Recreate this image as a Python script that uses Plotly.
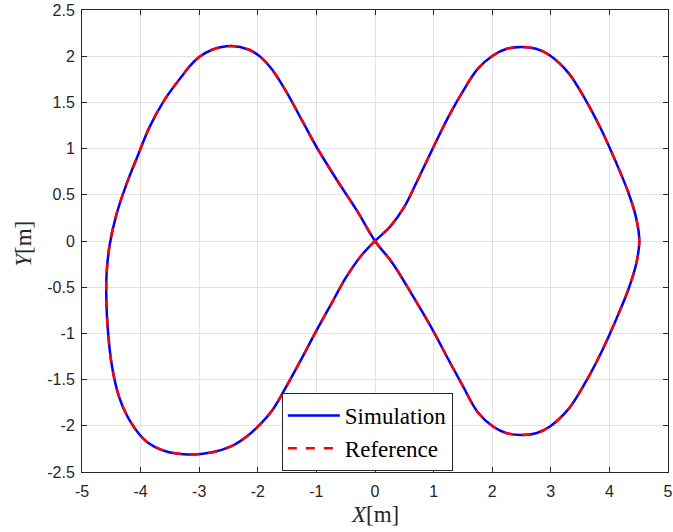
import plotly.graph_objects as go

# Reference trajectory (figure-eight path), metres.
# Order: origin -> right lobe (clockwise) -> origin -> left lobe (counter-clockwise) -> origin
ref_x = [0.0, 0.25, 0.5, 0.72, 1.0, 1.25, 1.5, 1.75, 2.02, 2.25, 2.5, 2.75, 2.98, 3.3, 3.6, 3.85, 4.1, 4.32, 4.46, 4.51,
         4.46, 4.32, 4.1, 3.85, 3.6, 3.3, 2.98, 2.75, 2.5, 2.25, 2.02, 1.75, 1.5, 1.25, 1.0, 0.65, 0.3, 0.0,
         -0.3, -0.65, -1.0, -1.25, -1.5, -1.75, -1.95, -2.15, -2.45, -2.78, -3.0, -3.15, -3.3, -3.6, -3.85, -4.05,
         -4.25, -4.42, -4.53, -4.58, -4.585, -4.56, -4.49, -4.36, -4.15, -3.9, -3.6, -3.2, -2.8,
         -2.45, -2.2, -2.0, -1.75, -1.5, -1.25, -1.0, -0.72, -0.5, -0.25, 0.0]
ref_y = [0.0, 0.15, 0.37, 0.65, 1.02, 1.34, 1.62, 1.86, 2.01, 2.08, 2.10, 2.08, 2.01, 1.82, 1.52, 1.22, 0.87, 0.53, 0.24, 0.0,
         -0.24, -0.53, -0.87, -1.22, -1.52, -1.82, -2.01, -2.08, -2.10, -2.08, -2.01, -1.85, -1.57, -1.28, -0.98, -0.60, -0.24, 0.0,
         0.32, 0.66, 1.02, 1.31, 1.60, 1.85, 1.99, 2.07, 2.11, 2.07, 1.99, 1.90, 1.78, 1.52, 1.23, 0.92,
         0.60, 0.27, -0.05, -0.35, -0.62, -0.95, -1.35, -1.70, -1.98, -2.17, -2.27, -2.31, -2.29,
         -2.22, -2.12, -2.01, -1.83, -1.56, -1.27, -0.97, -0.65, -0.40, -0.17, 0.0]

# Simulated trajectory tracks the reference closely
sim_x = list(ref_x)
sim_y = list(ref_y)

x_ticks = [-5, -4, -3, -2, -1, 0, 1, 2, 3, 4, 5]
y_ticks = [-2.5, -2, -1.5, -1, -0.5, 0, 0.5, 1, 1.5, 2, 2.5]

SERIF = "Liberation Serif, Times New Roman, serif"
SANS = "Liberation Sans, Arial, sans-serif"
INK = "#262626"

fig = go.Figure()
fig.add_trace(go.Scatter(
    x=sim_x, y=sim_y, mode="lines", name="Simulation",
    line=dict(color="#0000ff", width=2.5, shape="spline", smoothing=1.0),
))
fig.add_trace(go.Scatter(
    x=ref_x, y=ref_y, mode="lines", name="Reference",
    line=dict(color="#ff0000", width=2.5, dash="dash", shape="spline", smoothing=1.0),
))

axis_common = dict(
    showgrid=True, gridcolor="#e3e3e3", gridwidth=1,
    zeroline=False, automargin=False,
    showline=True, linecolor=INK, linewidth=1, mirror="ticks",
    ticks="inside", ticklen=5, tickcolor=INK,
    tickfont=dict(family=SANS, size=16, color=INK),
)

fig.update_layout(
    width=673, height=532,
    margin=dict(l=82, r=5, t=10, b=60),
    paper_bgcolor="white", plot_bgcolor="white",
    xaxis=dict(
        range=[-5, 5], tickvals=x_ticks, ticktext=[str(v) for v in x_ticks],
        ticklabelstandoff=5,
        **axis_common,
    ),
    yaxis=dict(
        range=[-2.5, 2.5], tickvals=y_ticks, ticktext=[("%g" % v) for v in y_ticks],
        ticklabelstandoff=3,
        **axis_common,
    ),
    legend=dict(
        x=0.341, y=0.171, xanchor="left", yanchor="top",
        bgcolor="white", bordercolor=INK, borderwidth=1,
        font=dict(family=SERIF, size=23, color="black"),
        tracegroupgap=0, itemwidth=52,
    ),
    showlegend=True,
    annotations=[
        dict(text="<i>X</i>[m]", xref="paper", yref="paper", x=0.5, y=-0.093,
             xanchor="center", yanchor="middle", showarrow=False,
             font=dict(family=SERIF, size=23, color=INK)),
        dict(text="<i>Y</i>[m]", xref="paper", yref="paper", x=-0.099, y=0.494,
             xanchor="center", yanchor="middle", showarrow=False, textangle=-90,
             font=dict(family=SERIF, size=23, color=INK)),
    ],
)

fig.write_html("out.html")
